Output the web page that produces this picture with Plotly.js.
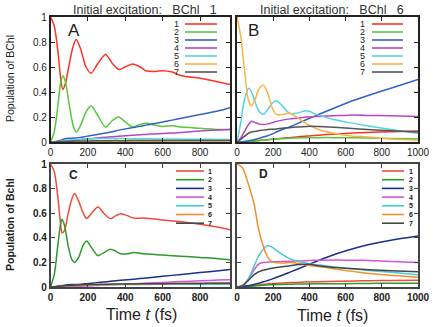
<!DOCTYPE html>
<html>
<head>
<meta charset="utf-8">
<script src="https://cdn.plot.ly/plotly-3.0.1.min.js"></script>
<style>
  html, body { margin: 0; padding: 0; background: #fff; }
  #chart { width: 436px; height: 327px; }
</style>
</head>
<body>
<div id="chart"></div>
<script>
// site labels 1..7
var sites = ['1', '2', '3', '4', '5', '6', '7'];

// Panel A: initial excitation BChl 1 (top)
var tA = [0, 20, 40, 55, 66, 80, 100, 120, 137, 160, 190, 217, 250, 294, 330, 365, 400, 440, 480, 511, 560, 600, 650, 700, 800, 900, 960];
var a1 = [1, 0.93, 0.72, 0.5, 0.42, 0.47, 0.62, 0.76, 0.82, 0.75, 0.6, 0.55, 0.62, 0.7, 0.63, 0.58, 0.6, 0.625, 0.6, 0.57, 0.565, 0.57, 0.56, 0.53, 0.51, 0.48, 0.46];
var a2 = [0, 0.08, 0.3, 0.48, 0.53, 0.48, 0.3, 0.14, 0.08, 0.13, 0.24, 0.29, 0.22, 0.12, 0.17, 0.2, 0.16, 0.12, 0.14, 0.15, 0.135, 0.125, 0.13, 0.12, 0.11, 0.1, 0.1];
var a3 = [0, 0.002, 0.008, 0.015, 0.02, 0.026, 0.03, 0.032, 0.033, 0.037, 0.045, 0.052, 0.06, 0.072, 0.082, 0.095, 0.105, 0.115, 0.125, 0.135, 0.148, 0.16, 0.175, 0.19, 0.22, 0.25, 0.275];
var a4 = [0, 0, 0.001, 0.002, 0.003, 0.005, 0.008, 0.011, 0.014, 0.018, 0.023, 0.027, 0.032, 0.038, 0.042, 0.046, 0.05, 0.054, 0.058, 0.061, 0.065, 0.068, 0.072, 0.076, 0.088, 0.096, 0.1];
var a5 = [0, 0.001, 0.004, 0.007, 0.009, 0.012, 0.016, 0.019, 0.021, 0.023, 0.025, 0.026, 0.027, 0.028, 0.028, 0.028, 0.027, 0.027, 0.026, 0.026, 0.025, 0.025, 0.024, 0.023, 0.022, 0.021, 0.02];
var a6 = [0, 0, 0.001, 0.001, 0.002, 0.002, 0.003, 0.003, 0.004, 0.004, 0.005, 0.005, 0.005, 0.006, 0.006, 0.006, 0.006, 0.007, 0.007, 0.007, 0.007, 0.007, 0.008, 0.008, 0.008, 0.008, 0.008];
var a7 = [0, 0.001, 0.002, 0.003, 0.004, 0.005, 0.006, 0.007, 0.008, 0.008, 0.009, 0.009, 0.01, 0.01, 0.011, 0.011, 0.011, 0.012, 0.012, 0.012, 0.012, 0.012, 0.012, 0.012, 0.012, 0.012, 0.012];

// Panel B: initial excitation BChl 6 (top)
var tB = [0, 20, 40, 64, 80, 100, 120, 145, 170, 195, 218, 250, 290, 330, 385, 450, 535, 620, 720, 850, 1000];
var b1 = [0, 0, 0.001, 0.003, 0.005, 0.008, 0.011, 0.015, 0.018, 0.022, 0.025, 0.03, 0.035, 0.04, 0.048, 0.055, 0.063, 0.07, 0.076, 0.082, 0.088];
var b2 = [0, 0, 0.002, 0.005, 0.007, 0.01, 0.013, 0.016, 0.019, 0.022, 0.024, 0.027, 0.03, 0.032, 0.034, 0.035, 0.035, 0.034, 0.032, 0.029, 0.026];
var b3 = [0, 0.001, 0.004, 0.01, 0.014, 0.02, 0.028, 0.04, 0.05, 0.065, 0.08, 0.1, 0.12, 0.145, 0.18, 0.22, 0.27, 0.32, 0.37, 0.43, 0.5];
var b4 = [0, 0.03, 0.08, 0.14, 0.165, 0.155, 0.145, 0.14, 0.145, 0.155, 0.165, 0.175, 0.185, 0.19, 0.2, 0.205, 0.21, 0.215, 0.213, 0.21, 0.205];
var b5 = [0, 0.15, 0.33, 0.43, 0.4, 0.32, 0.25, 0.22, 0.26, 0.31, 0.33, 0.29, 0.23, 0.23, 0.25, 0.215, 0.18, 0.155, 0.13, 0.1, 0.07];
var b6 = [1, 0.85, 0.6, 0.33, 0.29, 0.34, 0.42, 0.455, 0.39, 0.27, 0.22, 0.22, 0.23, 0.2, 0.145, 0.1, 0.07, 0.05, 0.04, 0.025, 0.015];
var b7 = [0, 0.02, 0.045, 0.07, 0.08, 0.085, 0.09, 0.095, 0.1, 0.102, 0.105, 0.11, 0.115, 0.12, 0.125, 0.124, 0.118, 0.11, 0.1, 0.09, 0.08];

// Panel C: BChl 1 (bottom)
var tC = [0, 20, 40, 55, 62, 75, 95, 115, 129, 150, 175, 193, 220, 254, 285, 321, 350, 375, 410, 446, 500, 600, 700, 800, 900, 964];
var c1 = [1, 0.94, 0.72, 0.5, 0.44, 0.46, 0.6, 0.72, 0.76, 0.7, 0.6, 0.556, 0.6, 0.65, 0.6, 0.556, 0.58, 0.595, 0.58, 0.56, 0.56, 0.545, 0.53, 0.51, 0.485, 0.465];
var c2 = [0, 0.1, 0.35, 0.52, 0.55, 0.5, 0.33, 0.22, 0.2, 0.24, 0.34, 0.375, 0.32, 0.255, 0.28, 0.307, 0.29, 0.27, 0.27, 0.28, 0.27, 0.26, 0.25, 0.24, 0.23, 0.22];
var c3 = [0, 0.002, 0.006, 0.01, 0.012, 0.015, 0.018, 0.02, 0.02, 0.021, 0.024, 0.027, 0.031, 0.036, 0.041, 0.046, 0.05, 0.054, 0.059, 0.064, 0.072, 0.087, 0.102, 0.117, 0.132, 0.142];
var c4 = [0, 0, 0, 0.001, 0.001, 0.002, 0.003, 0.004, 0.005, 0.006, 0.008, 0.009, 0.011, 0.013, 0.015, 0.018, 0.02, 0.022, 0.024, 0.027, 0.03, 0.037, 0.044, 0.05, 0.056, 0.06];
var c5 = [0, 0.001, 0.003, 0.005, 0.006, 0.007, 0.009, 0.011, 0.012, 0.013, 0.015, 0.016, 0.017, 0.018, 0.019, 0.02, 0.02, 0.02, 0.021, 0.021, 0.021, 0.022, 0.022, 0.022, 0.022, 0.022];
var c6 = [0, 0.001, 0.003, 0.005, 0.006, 0.007, 0.009, 0.011, 0.012, 0.013, 0.015, 0.016, 0.017, 0.018, 0.019, 0.02, 0.021, 0.022, 0.023, 0.024, 0.025, 0.027, 0.029, 0.03, 0.032, 0.033];
var c7 = [0, 0.002, 0.005, 0.007, 0.008, 0.01, 0.012, 0.014, 0.015, 0.017, 0.018, 0.019, 0.02, 0.021, 0.022, 0.023, 0.024, 0.024, 0.025, 0.025, 0.026, 0.027, 0.028, 0.029, 0.03, 0.03];

// Panel D: BChl 6 (bottom)
var tD = [0, 30, 60, 95, 115, 131, 150, 167, 185, 203, 250, 300, 350, 400, 458, 550, 650, 730, 850, 1000];
var d1 = [0, 0.002, 0.006, 0.012, 0.016, 0.019, 0.022, 0.025, 0.027, 0.029, 0.033, 0.036, 0.039, 0.041, 0.043, 0.046, 0.049, 0.051, 0.053, 0.055];
var d2 = [0, 0.001, 0.004, 0.008, 0.011, 0.013, 0.015, 0.017, 0.018, 0.019, 0.021, 0.023, 0.024, 0.025, 0.026, 0.027, 0.028, 0.029, 0.03, 0.03];
var d3 = [0, 0.003, 0.01, 0.02, 0.028, 0.035, 0.044, 0.052, 0.06, 0.07, 0.095, 0.125, 0.155, 0.185, 0.22, 0.27, 0.315, 0.345, 0.38, 0.415];
var d4 = [0, 0.01, 0.06, 0.14, 0.18, 0.195, 0.2, 0.202, 0.203, 0.205, 0.207, 0.21, 0.212, 0.215, 0.218, 0.22, 0.218, 0.215, 0.208, 0.2];
var d5 = [0, 0.01, 0.06, 0.17, 0.24, 0.28, 0.315, 0.335, 0.33, 0.315, 0.265, 0.225, 0.205, 0.19, 0.178, 0.16, 0.145, 0.135, 0.12, 0.1];
var d6 = [1, 0.97, 0.85, 0.67, 0.5, 0.4, 0.31, 0.25, 0.215, 0.2, 0.195, 0.2, 0.19, 0.175, 0.165, 0.145, 0.125, 0.11, 0.095, 0.08];
var d7 = [0, 0.01, 0.05, 0.1, 0.12, 0.13, 0.138, 0.144, 0.15, 0.155, 0.165, 0.175, 0.183, 0.185, 0.17, 0.158, 0.148, 0.14, 0.132, 0.125];

var topColors = ['#ff3322', '#55c83c', '#3361c6', '#b445c4', '#55d3df', '#f9b445', '#555555'];
var botColors = ['#f2493a', '#2c9a2c', '#1c2f8a', '#d653dc', '#45cbd3', '#f0902c', '#474747'];

var W = 436, H = 327;
function px(x) { return x / W; }
function py(y) { return 1 - y / H; }

var panels = [
  { t: tA, ys: [a1, a2, a3, a4, a5, a6, a7], colors: topColors, xa: 'x', ya: 'y' },
  { t: tB, ys: [b1, b2, b3, b4, b5, b6, b7], colors: topColors, xa: 'x2', ya: 'y2' },
  { t: tC, ys: [c1, c2, c3, c4, c5, c6, c7], colors: botColors, xa: 'x3', ya: 'y3' },
  { t: tD, ys: [d1, d2, d3, d4, d5, d6, d7], colors: botColors, xa: 'x4', ya: 'y4' }
];

var data = [];
panels.forEach(function (p) {
  p.ys.forEach(function (y, i) {
    data.push({
      x: p.t, y: y, xaxis: p.xa, yaxis: p.ya,
      type: 'scatter', mode: 'lines', name: sites[i],
      line: { color: p.colors[i], width: 1.5, shape: 'spline', smoothing: 0.8 },
      showlegend: false, hoverinfo: 'skip'
    });
  });
});

var leftDom = [px(50.5), px(230)];
var rightDom = [px(237), px(418)];
var topDom = [py(142), py(17)];
var botDom = [py(287), py(164)];

var FONT = 'Liberation Sans, Arial, sans-serif';
var topTick = { family: FONT, size: 10, color: '#222' };
var botTick = { family: FONT, size: 10, color: '#222', weight: 'bold' };

function xax(dom, anchor, range, vals, font, lc, lw) {
  return {
    domain: dom, anchor: anchor, range: range, tickvals: vals,
    ticks: 'inside', ticklen: 4, tickwidth: 1, tickcolor: lc,
    showline: true, linecolor: lc, linewidth: lw, mirror: 'ticks',
    showgrid: false, zeroline: false, showticklabels: true,
    tickfont: font, fixedrange: true
  };
}
function yax(dom, anchor, font, showLabels, lc, lw) {
  return {
    domain: dom, anchor: anchor, range: [0, 1], tickvals: [0, 0.2, 0.4, 0.6, 0.8, 1],
    ticktext: ['0', '0.2', '0.4', '0.6', '0.8', '1'],
    ticks: 'inside', ticklen: 4, tickwidth: 1, tickcolor: lc,
    showline: true, linecolor: lc, linewidth: lw, mirror: 'ticks',
    showgrid: false, zeroline: false, showticklabels: showLabels,
    tickfont: font, fixedrange: true
  };
}

function label(text, x, y, font, extra) {
  var a = {
    text: text, x: px(x), y: py(y), xref: 'paper', yref: 'paper', showarrow: false,
    xanchor: 'center', yanchor: 'middle', borderpad: 0, font: font
  };
  for (var k in extra) a[k] = extra[k];
  return a;
}

var annotations = [
  label('Initial excitation:&nbsp;&nbsp;&nbsp;BChl&nbsp;&nbsp;&nbsp;1', 145, 10, { family: FONT, size: 12.5, color: '#333' }),
  label('Initial excitation:&nbsp;&nbsp;&nbsp;BChl&nbsp;&nbsp;&nbsp;6', 332, 10, { family: FONT, size: 12.5, color: '#333' }),
  label('Population of BChl', 10, 79, { family: FONT, size: 10.5, color: '#222' }, { textangle: -90 }),
  label('Population of Bchl', 10, 225, { family: FONT, size: 10.5, color: '#222', weight: 'bold' }, { textangle: -90 }),
  label('Time <i>t</i> (fs)', 141, 314, { family: FONT, size: 16, color: '#222' }),
  label('Time <i>t</i> (fs)', 332, 315, { family: FONT, size: 16, color: '#222' }),
  label('A', 74, 30, { family: FONT, size: 17, color: '#222' }),
  label('B', 253, 30, { family: FONT, size: 17, color: '#222' }),
  label('C', 73, 175, { family: FONT, size: 12, color: '#222', weight: 'bold' }),
  label('D', 263, 174, { family: FONT, size: 12, color: '#222', weight: 'bold' })
];
var shapes = [];

// legends: top panels have number then line, bottom panels line then number
var legends = [
  { numX: 180, x0: 185, x1: 217, y0: 24, dy: 8, colors: topColors, numFirst: true },
  { numX: 366, x0: 372, x1: 403, y0: 24, dy: 8, colors: topColors, numFirst: true },
  { numX: 207, x0: 176, x1: 204, y0: 171, dy: 8.7, colors: botColors, numFirst: false },
  { numX: 408, x0: 382, x1: 404, y0: 171, dy: 8.7, colors: botColors, numFirst: false }
];
legends.forEach(function (L) {
  sites.forEach(function (s, i) {
    var yy = L.y0 + i * L.dy;
    annotations.push(label(s, L.numX, yy,
      L.numFirst ? { family: FONT, size: 9, color: '#222' }
                 : { family: FONT, size: 7, color: '#222', weight: 'bold' },
      { xanchor: L.numFirst ? 'right' : 'left' }));
    shapes.push({
      type: 'line', xref: 'paper', yref: 'paper',
      x0: px(L.x0), x1: px(L.x1), y0: py(yy), y1: py(yy),
      line: { color: L.colors[i], width: 1.6 }
    });
  });
});

var layout = {
  width: W, height: H,
  margin: { l: 0, r: 0, t: 0, b: 0 },
  paper_bgcolor: '#fff', plot_bgcolor: '#fff',
  showlegend: false,
  xaxis: xax(leftDom, 'y', [0, 960], [0, 200, 400, 600, 800], topTick, '#222', 1.6),
  yaxis: yax(topDom, 'x', topTick, true, '#222', 1.6),
  xaxis2: xax(rightDom, 'y2', [0, 1000], [0, 200, 400, 600, 800, 1000], topTick, '#222', 1.6),
  yaxis2: yax(topDom, 'x2', topTick, false, '#222', 1.6),
  xaxis3: xax(leftDom, 'y3', [0, 960], [0, 200, 400, 600, 800], botTick, '#444', 1.6),
  yaxis3: yax(botDom, 'x3', botTick, true, '#444', 1.6),
  xaxis4: xax(rightDom, 'y4', [0, 1000], [0, 200, 400, 600, 800, 1000], botTick, '#444', 1.6),
  yaxis4: yax(botDom, 'x4', botTick, false, '#444', 1.6),
  annotations: annotations,
  shapes: shapes
};

Plotly.newPlot('chart', data, layout, { displayModeBar: false, staticPlot: true });
</script>
</body>
</html>
